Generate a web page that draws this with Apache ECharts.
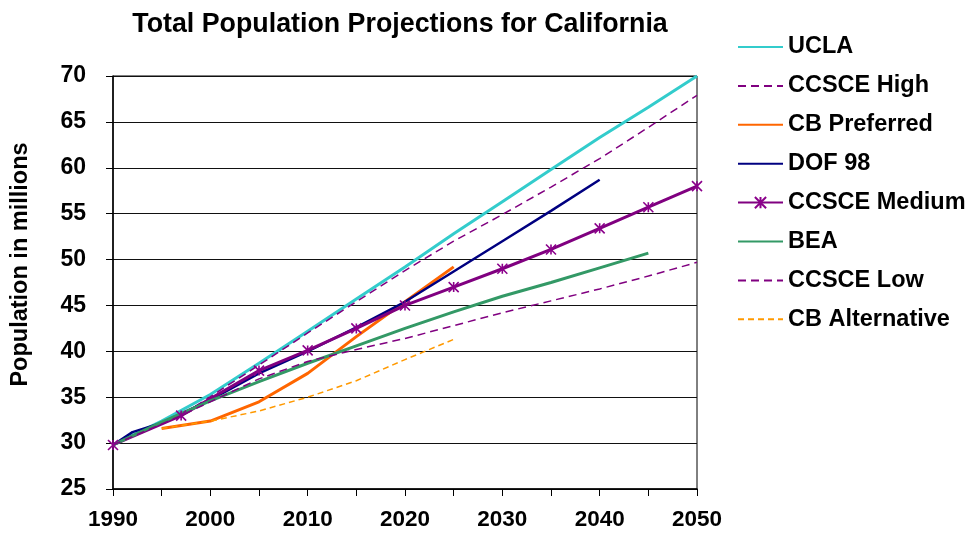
<!DOCTYPE html>
<html>
<head>
<meta charset="utf-8">
<title>Total Population Projections for California</title>
<script src="https://cdn.jsdelivr.net/npm/echarts@6/dist/echarts.min.js"></script>
<style>
  html, body { margin: 0; padding: 0; background: #ffffff; }
  #chart { width: 971px; height: 535px; }
</style>
</head>
<body>
<div id="chart"></div>
<script>
// Projection series, [year, population in millions]
const ucla = [[1990, 29.8], [1995, 32.4], [2000, 35.3], [2005, 38.7], [2010, 42.2], [2015, 45.7],
  [2020, 49.2], [2025, 52.8], [2030, 56.3], [2035, 59.8], [2040, 63.3], [2045, 66.6], [2050, 70.0]];
const ccsceHigh = [[1990, 29.8], [1997, 33.0], [2005, 38.5], [2010, 42.0], [2015, 45.4], [2020, 48.8],
  [2025, 52.0], [2030, 54.9], [2035, 57.9], [2040, 61.0], [2045, 64.4], [2050, 67.9]];
const cbPreferred = [[1995, 31.6], [2000, 32.4], [2005, 34.5], [2010, 37.6], [2015, 41.6], [2020, 45.4], [2025, 49.2]];
const dof98 = [[1990, 29.8], [1992, 31.2], [1995, 32.2], [2000, 34.7], [2005, 37.6], [2010, 40.0], [2015, 42.6],
  [2020, 45.4], [2025, 48.7], [2030, 52.0], [2035, 55.3], [2040, 58.7]];
const ccsceMedium = [[1990, 29.8], [1997, 33.0], [2005, 37.9], [2010, 40.1], [2015, 42.5], [2020, 45.0],
  [2025, 47.0], [2030, 49.0], [2035, 51.1], [2040, 53.4], [2045, 55.7], [2050, 58.0]];
const bea = [[1990, 29.8], [1995, 32.3], [2000, 34.6], [2005, 36.7], [2010, 38.7], [2015, 40.6], [2020, 42.5],
  [2025, 44.3], [2030, 46.0], [2035, 47.5], [2040, 49.1], [2045, 50.7]];
const ccsceLow = [[1990, 29.8], [1997, 33.0], [2005, 37.0], [2010, 38.9], [2015, 40.2], [2020, 41.4],
  [2025, 42.8], [2030, 44.2], [2035, 45.5], [2040, 46.8], [2045, 48.2], [2050, 49.7]];
const cbAlternative = [[1995, 31.6], [2000, 32.4], [2005, 33.5], [2010, 35.0], [2015, 36.8], [2020, 39.1], [2025, 41.3]];

const seriesNames = ['UCLA', 'CCSCE High', 'CB Preferred', 'DOF 98', 'CCSCE Medium', 'BEA', 'CCSCE Low', 'CB Alternative'];

// Axis ranges
const yearMin = 1990, yearMax = 2050, yearStep = 5;
const popMin = 25, popMax = 70, popStep = 5;

const FONT = '"Liberation Sans", Arial, Helvetica, sans-serif';
const asterisk = 'path://M0,0L10,10M10,0L0,10M5,0L5,10';
const CLEAR = 'rgba(0,0,0,0)';

// Plain line without point markers; the transparent item colour keeps
// the legend swatch a bare line segment.
function line(name, data, color, width, dashed) {
  return {
    name: name,
    type: 'line',
    data: data,
    symbol: 'circle',
    symbolSize: 0,
    showSymbol: false,
    smooth: false,
    lineStyle: { color: color, width: width, type: dashed ? dashed : 'solid' },
    itemStyle: { color: CLEAR, borderColor: CLEAR, borderWidth: 0 },
    emphasis: { disabled: true },
    silent: true
  };
}

const mediumSeries = line('CCSCE Medium', ccsceMedium, '#800080', 3);
mediumSeries.symbol = asterisk;
mediumSeries.showSymbol = true;
mediumSeries.symbolSize = 10;
mediumSeries.itemStyle = { color: CLEAR, borderColor: '#8b008b', borderWidth: 1.6 };

const chart = echarts.init(document.getElementById('chart'), null, { renderer: 'canvas' });
chart.setOption({
  animation: false,
  backgroundColor: '#ffffff',
  title: {
    text: 'Total Population Projections for California',
    left: 395, top: 6, textAlign: 'center',
    textStyle: { fontFamily: FONT, fontWeight: 'bold', fontSize: 26.8, color: '#000' }
  },
  legend: {
    orient: 'vertical',
    left: 732, top: 30,
    itemWidth: 45, itemHeight: 14, itemGap: 14.9, itemTextGap: 5,
    data: seriesNames,
    textStyle: { fontFamily: FONT, fontWeight: 'bold', fontSize: 23.5, color: '#000' },
    selectedMode: false
  },
  grid: {
    left: 113, right: 274, top: 76, bottom: 46,
    outerBoundsMode: 'none',
    containLabel: false,
    show: true, borderColor: '#000', borderWidth: 1, backgroundColor: 'transparent'
  },
  xAxis: {
    type: 'value', min: yearMin, max: yearMax, interval: yearStep,
    axisLine: { show: true, lineStyle: { color: '#000', width: 1.5 } },
    axisTick: { show: true, inside: false, length: 7, lineStyle: { color: '#000', width: 1 } },
    splitLine: { show: false },
    axisLabel: {
      margin: 19, color: '#000', fontFamily: FONT, fontWeight: 'bold', fontSize: 22.5,
      formatter: v => (v % 10 === 0 ? String(v) : '')
    }
  },
  yAxis: {
    type: 'value', min: popMin, max: popMax, interval: popStep,
    name: 'Population in millions', nameLocation: 'middle', nameGap: 80, nameRotate: 90,
    nameTextStyle: { fontFamily: FONT, fontWeight: 'bold', fontSize: 23.5, color: '#000', padding: [0, 0, 0, 36] },
    axisLine: { show: true, lineStyle: { color: '#000', width: 1.5 } },
    axisTick: { show: true, inside: false, length: 7, lineStyle: { color: '#000', width: 1 } },
    splitLine: { show: true, lineStyle: { color: '#111', width: 1 } },
    axisLabel: { margin: 27, color: '#000', fontFamily: FONT, fontWeight: 'bold', fontSize: 23 }
  },
  series: [
    line('UCLA', ucla, '#33cccc', 3),
    line('CCSCE High', ccsceHigh, '#800080', 1.5, [8, 5]),
    line('CB Preferred', cbPreferred, '#ff6600', 3),
    line('DOF 98', dof98, '#000080', 2.5),
    mediumSeries,
    line('BEA', bea, '#339966', 3),
    line('CCSCE Low', ccsceLow, '#800080', 1.5, [8, 5]),
    line('CB Alternative', cbAlternative, '#ff9900', 1.5, [6, 4])
  ]
});
</script>
</body>
</html>
